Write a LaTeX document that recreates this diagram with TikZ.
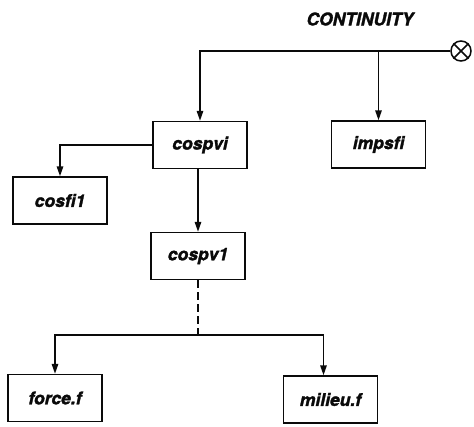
\documentclass[tikz,border=0pt]{standalone}
\usepackage{fontspec}
\setmainfont{TeX Gyre Heros}[BoldItalicFeatures={FakeBold=1.6}]
\usetikzlibrary{arrows.meta}
\definecolor{inkblack}{RGB}{10, 10, 10}

\tikzset{
  modbox/.style={draw=inkblack, line width=1.5pt, minimum width=94pt, minimum height=47pt,
    inner sep=0pt, text=inkblack, font=\fontsize{17.5}{20}\selectfont\bfseries\itshape},
  link/.style={draw=inkblack, line width=1.5pt, -{Triangle[length=10pt,width=6.5pt]}},
}

\begin{document}
\begin{tikzpicture}[x=1pt, y=-1pt]
        \useasboundingbox (0,0) rectangle (474,426);

        % titre et symbole d'entree
        \node[text=inkblack, font=\fontsize{17.5}{20}\selectfont\bfseries\itshape] (title) at (360,19) {CONTINUITY};
        \node[draw=inkblack, circle, line width=1.5pt, minimum size=20pt, inner sep=0pt] (cross) at (461,51) {};
        \draw[inkblack, line width=1.5pt] (cross.north west) -- (cross.south east);
        \draw[inkblack, line width=1.5pt] (cross.north east) -- (cross.south west);

        % modules
        \node[modbox] (cospvi) at (200,145) {cospvi};
        \node[modbox] (impsfi) at (378.5,144.5) {impsfi};
        \node[modbox] (cosfi1) at (60,200.5) {cosfi1};
        \node[modbox] (cospv1) at (198,256) {cospv1};
        \node[modbox] (force) at (55,398) {force.f};
        \node[modbox] (milieu) at (330.5,399.5) {milieu.f};

        % appels
        \draw[link] (cross.west) -- (cospvi.north |- cross.west) -- (cospvi.north);
        \draw[link] (impsfi.north |- cross.west) -- (impsfi.north);
        \draw[link] (cospvi.west) -| (cosfi1.north);
        \draw[link] (cospvi.south -| cospv1.north) -- (cospv1.north);

        % branchement en pointilles
        \coordinate (split) at (198,335);
        \draw[inkblack, line width=1.5pt, dash pattern=on 8pt off 4pt] (cospv1.south) -- (split);
        \draw[link] (split) -| (force.north);
        \draw[link] (split) -| ([xshift=-7pt]milieu.north);
    \end{tikzpicture}
\end{document}
